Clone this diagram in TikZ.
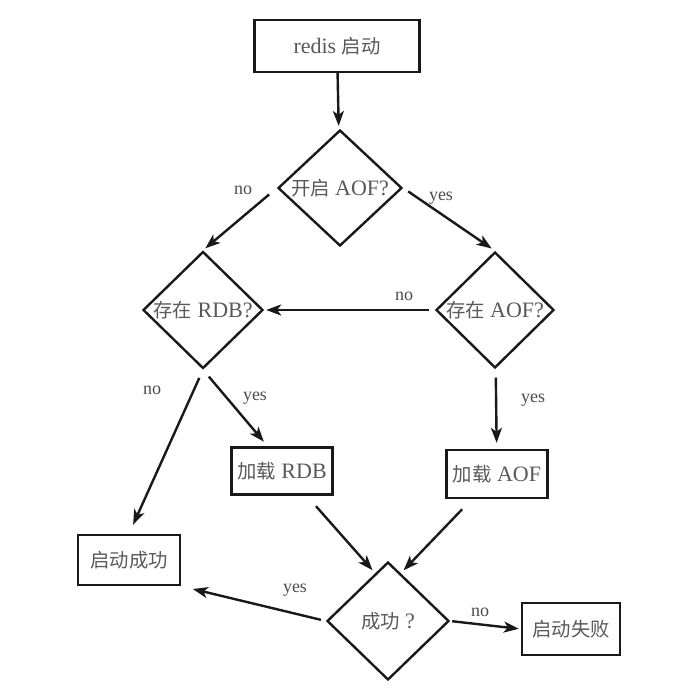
\documentclass[tikz,border=0pt]{standalone}
\usepackage{fontspec}
\setmainfont{Liberation Serif}
\newfontfamily\cjk{Noto Sans CJK SC}[Scale=0.88]
\newcommand{\zh}[1]{{\cjk #1}}
\usetikzlibrary{arrows.meta,shapes.geometric}
\tikzset{
    line color/.style={black!90},
    label color/.style={black!70},
    box/.style={draw,line color,line width=2.4pt,rectangle,inner sep=3pt,text=black!65,font=\fontsize{22}{26}\selectfont},
    decision/.style={draw,line color,line width=2.4pt,diamond,inner sep=0pt,minimum width=122pt,minimum height=116pt,text=black!65,font=\fontsize{22}{26}\selectfont},
    arr/.style={-{Stealth[length=15pt,width=11pt,inset=4pt]},line color,line width=2.4pt},
    lbl/.style={label color,font=\fontsize{18}{21}\selectfont},
}

\begin{document}
\begin{tikzpicture}[x=1pt,y=-1pt]
    \fill[white] (0,0) rectangle (699,694);
    \useasboundingbox (0,0) rectangle (699,694);

    % boxes and decisions
    \node[box,minimum width=165pt,minimum height=52pt] (start) at (337,46) {redis \zh{启动}};
    \node[decision,minimum width=124pt] (aof) at (340,188) {\zh{开启} AOF?};
    \node[decision,minimum width=120pt] (rdb) at (203,310) {\zh{存在} RDB?};
    \node[decision,minimum width=118pt] (hasaof) at (495,310) {\zh{存在} AOF?};
    \node[box,minimum width=101pt,minimum height=47pt] (loadrdb) at (282,471) {\zh{加载} RDB};
    \node[box,minimum width=101pt,minimum height=48pt] (loadaof) at (497,474) {\zh{加载} AOF};
    \node[box,minimum width=102pt,minimum height=50pt] (ok) at (129,560) {\zh{启动成功}};
    \node[decision,minimum height=118pt] (done) at (388,621) {\zh{成功} ?};
    \node[box,minimum width=98pt,minimum height=52pt] (fail) at (571,629) {\zh{启动失败}};

    % connectors
    \draw[arr,shorten >=4pt] (start) -- (aof);
    \draw[arr,shorten <=10pt,shorten >=3pt] (aof.west) -- (rdb.north);
    \draw[arr,shorten <=6pt,shorten >=4pt] (aof.east) -- (hasaof.north);
    \draw[arr,shorten <=6pt,shorten >=2pt] (hasaof) -- (rdb);
    \draw[arr,shorten <=9pt,shorten >=10pt] (rdb.south) -- (ok.north);
    \draw[arr,shorten <=9pt,shorten >=6pt] (rdb.south) -- (loadrdb.120);
    \draw[arr,shorten <=9pt,shorten >=6pt] (hasaof) -- (loadaof);
    \draw[arr,shorten <=14pt,shorten >=4pt] (loadrdb.-45) -- (done.105);
    \draw[arr,shorten <=14pt,shorten >=4pt] (loadaof.-135) -- (done.75);
    \draw[arr,shorten <=5pt,shorten >=12pt] (done.west) -- (ok.south east);
    \draw[arr,shorten <=2pt,shorten >=2pt] (done.east) -- (fail.west);

    % labels
    \node[lbl] (l aof no) at (243,190) {no};
    \node[lbl] (l aof yes) at (441,198) {yes};
    \node[lbl] (l has no) at (404,296) {no};
    \node[lbl] (l rdb no) at (152,390) {no};
    \node[lbl] (l rdb yes) at (255,398) {yes};
    \node[lbl] (l has yes) at (533,400) {yes};
    \node[lbl] (l done yes) at (295,590) {yes};
    \node[lbl] (l done no) at (480,612) {no};
\end{tikzpicture}
\end{document}
